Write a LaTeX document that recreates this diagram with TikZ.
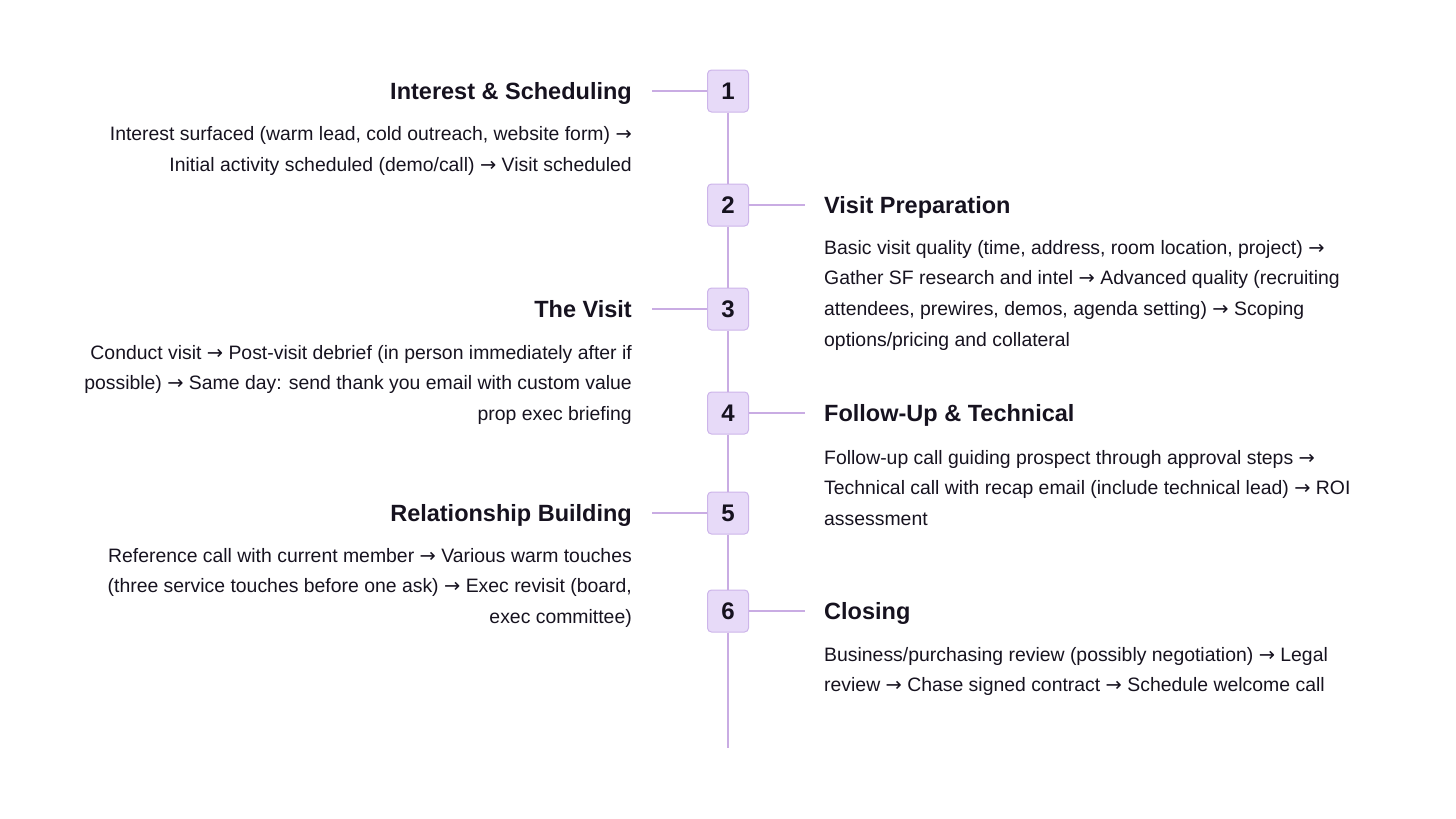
\documentclass[tikz,border=0pt]{standalone}
\usepackage{fontspec}
\setmainfont{Liberation Sans}
\newfontfamily\arrowfont{DejaVu Sans}
\newcommand{\tto}{{\arrowfont →}}
\definecolor{spine}{HTML}{C9ACE3}
\definecolor{boxfill}{HTML}{E7DAF8}
\definecolor{boxline}{HTML}{CDB5EA}
\definecolor{ink}{HTML}{16121F}

\begin{document}
\begin{tikzpicture}[x=1pt,y=-1pt]
\tikzset{
  stepbox/.style={rectangle,rounded corners=4pt,draw=boxline,fill=boxfill,line width=1pt,minimum width=41pt,minimum height=42pt,inner sep=0pt,font=\fontsize{24}{24}\selectfont\bfseries,text=ink},
  headl/.style={anchor=base east,inner sep=0pt,font=\fontsize{23.5}{26}\selectfont\bfseries,text=ink},
  headr/.style={anchor=base west,inner sep=0pt,font=\fontsize{23.5}{26}\selectfont\bfseries,text=ink},
  bodyl/.style={anchor=north east,align=right,inner sep=0pt,font=\fontsize{19.4}{30.7}\selectfont,text=ink},
  bodyr/.style={anchor=north west,align=left,inner sep=0pt,font=\fontsize{19.4}{30.7}\selectfont,text=ink},
  link/.style={draw=spine,line width=2pt}
}
\useasboundingbox (0,0) rectangle (1456,819);
\node[stepbox] (n_s1) at (728,91) {1};
\node[stepbox] (n_s2) at (728,205) {2};
\node[stepbox] (n_s3) at (728,309) {3};
\node[stepbox] (n_s4) at (728,413) {4};
\node[stepbox] (n_s5) at (728,513) {5};
\node[stepbox] (n_s6) at (728,611) {6};
\coordinate (c_end) at (728,748);
\coordinate (c_1) at (652,91);
\coordinate (c_2) at (805,205);
\coordinate (c_3) at (652,309);
\coordinate (c_4) at (805,413);
\coordinate (c_5) at (652,513);
\coordinate (c_6) at (805,611);
\node[headl] (n_h1) at (632,99.5) {Interest \& Scheduling};
\node[headr] (n_h2) at (824,213.5) {Visit Preparation};
\node[headl] (n_h3) at (632,317.5) {The Visit};
\node[headr] (n_h4) at (824,421.5) {Follow-Up \& Technical};
\node[headl] (n_h5) at (632,521.5) {Relationship Building};
\node[headr] (n_h6) at (824,619.5) {Closing};
\node[bodyl] (n_b1) at (632,126.5) {Interest surfaced (warm lead, cold outreach, website form) \tto\\Initial activity scheduled (demo/call) \tto{} Visit scheduled};
\node[bodyr] (n_b2) at (824,240) {Basic visit quality (time, address, room location, project) \tto\\Gather SF research and intel \tto{} Advanced quality (recruiting\\attendees, prewires, demos, agenda setting) \tto{} Scoping\\options/pricing and collateral};
\node[bodyl] (n_b3) at (632,345) {Conduct visit \tto{} Post-visit debrief (in person immediately after if\\possible) \tto{} Same day: send thank you email with custom value\\prop exec briefing};
\node[bodyr] (n_b4) at (824,450) {Follow-up call guiding prospect through approval steps \tto\\Technical call with recap email (include technical lead) \tto{} ROI\\assessment};
\node[bodyl] (n_b5) at (632,548) {Reference call with current member \tto{} Various warm touches\\(three service touches before one ask) \tto{} Exec revisit (board,\\exec committee)};
\node[bodyr] (n_b6) at (824,647) {Business/purchasing review (possibly negotiation) \tto{} Legal\\review \tto{} Chase signed contract \tto{} Schedule welcome call};
\draw[link] (n_s1) -- (n_s2);
\draw[link] (n_s2) -- (n_s3);
\draw[link] (n_s3) -- (n_s4);
\draw[link] (n_s4) -- (n_s5);
\draw[link] (n_s5) -- (n_s6);
\draw[link] (n_s6) -- (c_end);
\draw[link] (c_1) -- (n_s1);
\draw[link] (n_s2) -- (c_2);
\draw[link] (c_3) -- (n_s3);
\draw[link] (n_s4) -- (c_4);
\draw[link] (c_5) -- (n_s5);
\draw[link] (n_s6) -- (c_6);
\end{tikzpicture}
\end{document}
